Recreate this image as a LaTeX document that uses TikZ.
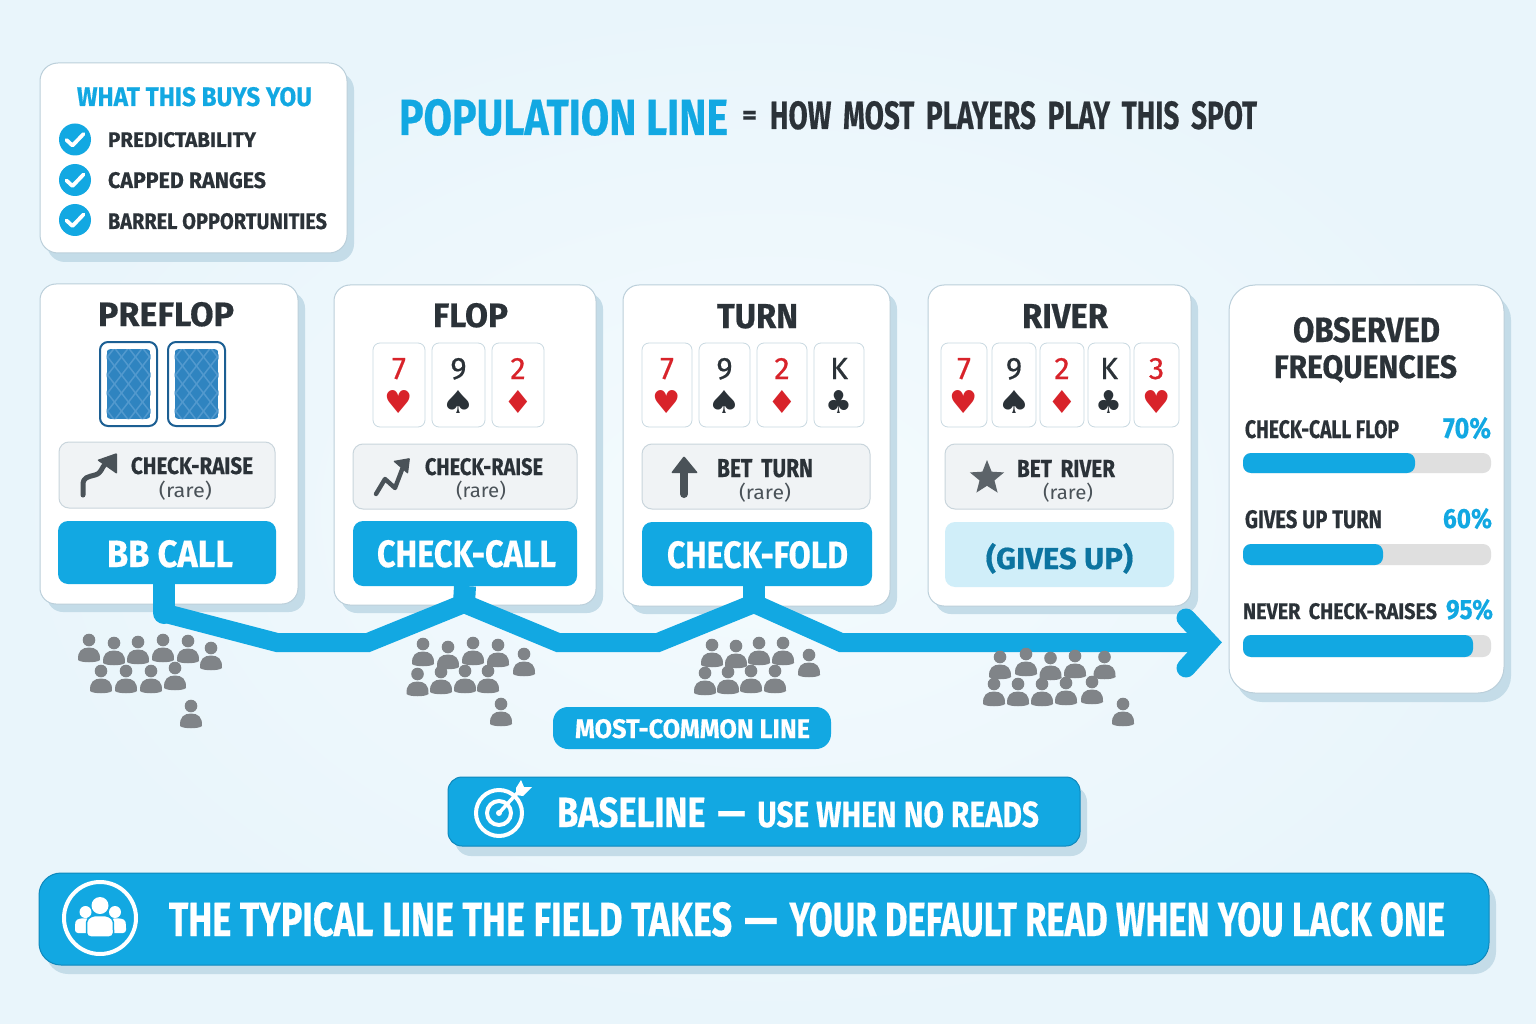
\documentclass[tikz,border=0pt]{standalone}
\usepackage{fontspec}
\usepackage{graphicx}
\usetikzlibrary{shapes.geometric}
\setmainfont{Fira Sans}[BoldFeatures={FakeBold=0.5}]
\newfontfamily\symf{DejaVu Sans}
\newfontfamily\rankf{Fira Sans}[FakeBold=0.5]
\definecolor{cblue}{HTML}{12A8E2}
\definecolor{cbord}{HTML}{0E88BC}
\definecolor{ink}{HTML}{2B3238}
\definecolor{soft}{HTML}{4A5258}
\definecolor{shade}{HTML}{C4DCE8}
\definecolor{edge}{HTML}{BBCFDA}
\definecolor{actf}{HTML}{F0F3F5}
\definecolor{acte}{HTML}{C9D5DC}
\definecolor{crd}{HTML}{D8232A}
\definecolor{people}{HTML}{808488}
\definecolor{bgin}{HTML}{F4FBFE}
\definecolor{bgout}{HTML}{E9F5FB}
\definecolor{backd}{HTML}{1C5F93}
\definecolor{backm}{HTML}{2F84C0}
\definecolor{backl}{HTML}{5299CE}
\tikzset{
  panel/.style={draw=edge,line width=1pt,fill=white,rounded corners=16pt,inner sep=0pt,outer sep=0pt},
  shadowbox/.style={fill=shade,rounded corners=16pt,inner sep=0pt,outer sep=0pt},
  action/.style={draw=acte,line width=1pt,fill=actf,rounded corners=10pt,inner sep=0pt,outer sep=0pt},
  bluebox/.style={fill=cblue,rounded corners=10pt,inner sep=0pt,outer sep=0pt},
  paleblue/.style={fill=cblue!20!white,rounded corners=10pt,inner sep=0pt,outer sep=0pt},
  banner/.style={draw=cbord,line width=1pt,fill=cblue,rounded corners=20pt,inner sep=0pt,outer sep=0pt},
  cardbox/.style={draw=edge!80!white,line width=.8pt,fill=white,rounded corners=7pt,inner sep=0pt,outer sep=0pt},
  backbox/.style={draw=backd,line width=2pt,fill=white,rounded corners=8pt,inner sep=0pt,outer sep=0pt},
  track/.style={fill=gray!25!white,rounded corners=8pt,inner sep=0pt,outer sep=0pt},
  barfill/.style={fill=cblue,rounded corners=8pt,inner sep=0pt,outer sep=0pt},
  txt/.style={inner sep=0pt,outer sep=0pt,anchor=base},
  flow/.style={draw=cblue,line width=19pt,line join=miter},
  stem/.style={draw=cblue,line width=22pt},
  iconline/.style={draw=#1,line cap=round,line join=round},
}
% box node: name x0 y0 x1 y1 style
\newcommand\bx[6]{\node[#6,minimum width={((#4)-(#2))*1pt},minimum height={((#5)-(#3))*1pt}] (#1) at ({((#2)+(#4))/2},{((#3)+(#5))/2}) {};}
% panel with shadow
\newcommand\pn[8]{\bx{#1s}{#2+#6}{#3+#7}{#4+#6}{#5+#7}{shadowbox,#8}\bx{#1}{#2}{#3}{#4}{#5}{panel,#8}}
% fitted text: name x0 top x1 baseline colour+font text
\newcommand\tx[7]{\node[txt,text=#6] (#1) at ({(#2+#4)/2},#5) {\resizebox{\dimexpr#4pt-#2pt\relax}{\dimexpr#5pt-#3pt\relax}{#7}};}
\newcommand\bft[1]{{\bfseries #1}}
\newcommand\wbft[1]{{\bfseries\spaceskip=.42em\relax #1}}
\newcommand\person[2]{%
  \fill (#1,#2) circle[radius=6.3];
  \fill (#1-11,#2+20) .. controls (#1-11.5,#2+11) and (#1-7,#2+7.5) .. (#1,#2+7.5) .. controls (#1+7,#2+7.5) and (#1+11.5,#2+11) .. (#1+11,#2+20) .. controls (#1+8,#2+23) and (#1-8,#2+23) .. cycle;}
% card face: id x0 x1 rank suit colour suit-xscale
\newcommand\cardface[7]{%
  \bx{#1}{#2}{343}{#3}{427}{cardbox}
  \node[txt,text=#6] (#1r) at ({(#2+#3)/2},379) {\resizebox{!}{21pt}{\rankf #4}};
  \node[inner sep=0pt,text=#6] (#1u) at ({(#2+#3)/2},402) {\scalebox{#7}[1]{\resizebox{!}{23pt}{\symf #5}}};}
\newcommand\cardback[3]{%
  \bx{#1}{#2}{342}{#3}{426}{backbox}
  \begin{scope}
    \clip[rounded corners=4pt] (#2+6.5,349) rectangle (#3-6.5,419);
    \fill[backm] (#2+6.5,349) rectangle (#3-6.5,419);
    \foreach \k in {-6,...,6}{
      \draw[backl,line width=1.5pt] ({(#2+#3)/2+\k*14-31},344) -- ({(#2+#3)/2+\k*14+31},424);
      \draw[backl,line width=1.5pt] ({(#2+#3)/2+\k*14+31},344) -- ({(#2+#3)/2+\k*14-31},424);
    }
  \end{scope}}
\newcommand\tick[2]{%
  \node[circle,fill=cblue,minimum size=32pt,inner sep=0pt] (#1) at (75,#2) {};
  \draw[iconline=white,line width=3.8pt] (66.5,#2+.5) -- (72.5,#2+6) -- (83.5,#2-5.5);}
\begin{document}
\begin{tikzpicture}[x=1pt,y=-1pt]
\useasboundingbox (0,0) rectangle (1536,1024);
\fill[inner color=bgin,outer color=bgout] (0,0) rectangle (1536,1024);

% --- top-left box
\pn{buys}{40}{63}{347}{253}{7}{9}{rounded corners=18pt}
\tx{buyst}{77}{87}{312}{106}{cblue}{\bft{WHAT THIS BUYS YOU}}
\tick{c1}{139.5}\tick{c2}{180}\tick{c3}{220}
\tx{b1}{108}{132}{256}{147}{ink}{\bft{PREDICTABILITY}}
\tx{b2}{108}{172}{266}{188}{ink}{\bft{CAPPED RANGES}}
\tx{b3}{108}{213}{327}{229}{ink}{\bft{BARREL OPPORTUNITIES}}

% --- heading
\tx{h1}{399}{99}{728}{135}{cblue}{\bft{POPULATION LINE}}
\tx{h2}{742}{111}{757}{124}{ink}{\bft{=}}
\tx{h3}{770}{101}{1257}{129}{ink}{\wbft{HOW MOST PLAYERS PLAY THIS SPOT}}

% --- panels
\pn{pre}{40}{284}{298}{604}{7}{8}{}
\pn{flop}{334}{285}{596}{605}{7}{8}{}
\pn{turn}{623}{285}{890}{606}{7}{8}{}
\pn{riv}{928}{285}{1191}{606}{7}{8}{}
\pn{freq}{1229}{285}{1504}{693}{7}{9}{rounded corners=26pt}

\tx{tpre}{98}{302}{234}{326}{ink}{\bft{PREFLOP}}
\tx{tflop}{433}{303}{508}{327}{ink}{\bft{FLOP}}
\tx{tturn}{717}{304}{798}{328}{ink}{\bft{TURN}}
\tx{triv}{1022}{304}{1108}{328}{ink}{\bft{RIVER}}

% --- cards
\cardback{bk1}{100}{157}
\cardback{bk2}{168}{225}
\cardface{fa}{373}{425}{7}{♥}{crd}{1}
\cardface{fb}{432}{485}{9}{♠}{ink}{1.2}
\cardface{fc}{492}{544}{2}{♦}{crd}{1.05}
\cardface{ta}{642}{692}{7}{♥}{crd}{1}
\cardface{tb}{699}{750}{9}{♠}{ink}{1.2}
\cardface{tc}{757}{807}{2}{♦}{crd}{1.05}
\cardface{td}{814}{864}{K}{♣}{ink}{.95}
\cardface{ra}{941}{987}{7}{♥}{crd}{1}
\cardface{rb}{992}{1036}{9}{♠}{ink}{1.2}
\cardface{rc}{1040}{1084}{2}{♦}{crd}{1.05}
\cardface{rd}{1088}{1130}{K}{♣}{ink}{.95}
\cardface{re}{1134}{1179}{3}{♥}{crd}{1}

% --- action boxes
\bx{apre}{59}{442}{275}{508}{action}
\bx{aflop}{353}{444}{577}{509}{action}
\bx{aturn}{642}{444}{870}{509}{action}
\bx{ariv}{945}{444}{1173}{509}{action}
\tx{a1}{131}{457}{253}{474}{ink}{\bft{CHECK-RAISE}}
\tx{a1b}{159}{481}{212}{497.5}{soft}{(rare)}
\tx{a2}{425}{458}{543}{475}{ink}{\bft{CHECK-RAISE}}
\tx{a2b}{456}{481}{506}{497.5}{soft}{(rare)}
\tx{a3}{717}{459}{813}{477}{ink}{\wbft{BET TURN}}
\tx{a3b}{739}{483}{791}{499.5}{soft}{(rare)}
\tx{a4}{1017}{460}{1115}{477}{ink}{\wbft{BET RIVER}}
\tx{a4b}{1043}{482.5}{1093}{499}{soft}{(rare)}

% icons in the action boxes
\draw[iconline=soft,line width=5pt] (83,495) -- (83,485) .. controls (83,477) and (88,477) .. (95,475) .. controls (102,473) and (101,468) .. (106,463);
\fill[soft,rounded corners=1pt] (97,460) -- (117,453) -- (117,474) -- cycle;
\draw[iconline=soft,line width=4.4pt] (376,494) -- (385,479) -- (395,488) -- (403,467);
\fill[soft,rounded corners=1pt] (393,461) -- (410,458) -- (408,474) -- cycle;
\draw[draw=soft,line width=8pt,line cap=round] (684,470) -- (684,494);
\fill[soft,rounded corners=1pt] (671,473) -- (684,456) -- (698,473) -- cycle;
\node[star,star points=5,star point ratio=2.3,fill=soft!90!white,minimum size=36pt,inner sep=0pt] (sturn) at (987,478) {};

% --- result boxes
\bx{bb}{58}{521}{276}{584}{bluebox}
\bx{cc}{353}{521}{577}{586}{bluebox}
\bx{cf}{642}{522}{872}{586}{bluebox}
\bx{gu}{945}{522}{1174}{587}{paleblue}
\tx{bbt}{107}{540}{233}{567}{white}{\bft{BB CALL}}
\tx{cct}{377}{540}{556}{567}{white}{\bft{CHECK-CALL}}
\tx{cft}{667}{541}{848}{568}{white}{\bft{CHECK-FOLD}}
\tx{gut}{986}{543}{1133}{569}{cbord!85!black}{\bft{(GIVES UP)}}

% --- flow connector
\coordinate (f1) at (164,613);
\coordinate (f2) at (277,642.5);
\coordinate (f3) at (368,642.5);
\coordinate (f4) at (464,603.5);
\coordinate (f5) at (558,642.5);
\coordinate (f6) at (658,642.5);
\coordinate (f7) at (754,603.5);
\coordinate (f8) at (841,642.5);
\coordinate (tip) at (1209,642.5);
\coordinate (hd1) at (1186,618);
\coordinate (hd2) at (1186,668);
\draw[stem,line cap=round] (f1) -- ++(0,-10);
\draw[stem] ([xshift=-3pt]bb.south) -- (f1);
\draw[stem] (cc.south) -- (f4);
\draw[stem] ([xshift=-3pt]cf.south) -- (f7);
\draw[flow] (f1) -- (f2) -- (f3) -- (f4) -- (f5) -- (f6) -- (f7) -- (f8) -- (tip);
\draw[flow,line cap=round] (hd1) -- (tip) -- (hd2);

% --- people
\begin{scope}[fill=people]
\foreach \a/\b in {89/640,114/643,138/642,163/640,188/641,211/648,101/671,126/671,151/671,175/668,191/706,
  423/644,448/647,473/643,498/645,524/654,417.5/674,441/672,465/671,488/671,501/704,
  712/645,736/646,759/643,783/643,809/655,705/673,728/672,751/671,775/671,
  1000/657,1026/654,1050.5/658,1075/656,1104.5/657,994/684,1018/684,1042/684,1066/683,1092/682,1123/704}
  {\person{\a}{\b}}
\end{scope}

% --- frequencies
\tx{fq1}{1293}{317}{1440}{342}{ink}{\bft{OBSERVED}}
\tx{fq2}{1274}{355}{1457}{378}{ink}{\bft{FREQUENCIES}}
\tx{l1}{1245}{420}{1399}{438}{ink}{\bft{CHECK-CALL FLOP}}
\tx{v1}{1443}{417}{1491}{438}{cblue}{\bft{70\%}}
\bx{t1}{1243}{453}{1491}{473}{track}
\bx{f1b}{1243}{453}{1415}{473}{barfill}
\tx{l2}{1245}{510}{1382}{528}{ink}{\bft{GIVES UP TURN}}
\tx{v2}{1443}{508}{1492}{528}{cblue}{\bft{60\%}}
\bx{t2}{1243}{544}{1491}{565}{track}
\bx{f2b}{1243}{544}{1383}{565}{barfill}
\tx{l3}{1243}{603}{1437}{619}{ink}{\wbft{NEVER CHECK-RAISES}}
\tx{v3}{1446}{599}{1493}{619}{cblue}{\bft{95\%}}
\bx{t3}{1243}{635}{1491}{657}{track}
\bx{f3b}{1243}{635}{1473}{657}{barfill}

% --- most-common pill
\bx{mc}{553}{707}{831}{749}{bluebox,rounded corners=15pt}
\tx{mct}{575}{719}{810}{738}{white}{\bft{MOST-COMMON LINE}}

% --- baseline banner
\bx{bls}{455}{786}{1087}{856}{shadowbox}
\bx{bl}{448}{777}{1080}{846}{banner,rounded corners=14pt}
\draw[white,line width=4pt] (499,813) circle[radius=23];
\draw[white,line width=4pt] (499,813) circle[radius=12];
\fill[white] (499,813) circle[radius=3];
\draw[white,line width=3.5pt] (499,813) -- (520,790);
\fill[white] (516,788) -- (521,780) -- (524,787) -- (532,787) -- (523,796) -- (516,795) -- cycle;
\tx{blt}{557}{797}{1039}{827}{white}{\bft{BASELINE\hspace{.35em}—\hspace{.35em}\scalebox{.86}{USE WHEN NO READS}}}

% --- bottom banner
\bx{fts}{46}{882}{1496}{974}{shadowbox,rounded corners=22pt}
\bx{ft}{39}{873}{1489}{965}{banner,rounded corners=22pt}
\node[circle,draw=white,line width=4pt,minimum size=72pt,inner sep=0pt] (ppl) at (100,918) {};
\fill[white] (100,905.5) circle[radius=8.5];
\fill[white] (85.5,912) circle[radius=6];
\fill[white] (115,912) circle[radius=6];
\fill[white,rounded corners=3pt] (75,933) -- (75,925) .. controls (76,918) and (84,918) .. (90,919) -- (90,933) -- cycle;
\fill[white,rounded corners=3pt] (126,933) -- (126,925) .. controls (125,918) and (117,918) .. (110,919) -- (110,933) -- cycle;
\draw[line width=1.5pt,cblue,fill=white,rounded corners=4pt] (86.5,937) -- (86.5,926) .. controls (87,917) and (94,915.5) .. (100,915.5) .. controls (106,915.5) and (113,917) .. (113.5,926) -- (113.5,937) -- cycle;
\tx{ftt}{169}{902}{1445}{936}{white}{\bft{\scalebox{1.04}[1]{THE TYPICAL LINE THE FIELD TAKES}\hspace{.35em}\scalebox{1.2}[1]{—}\hspace{.35em}YOUR DEFAULT READ WHEN YOU LACK ONE}}
\end{tikzpicture}
\end{document}
